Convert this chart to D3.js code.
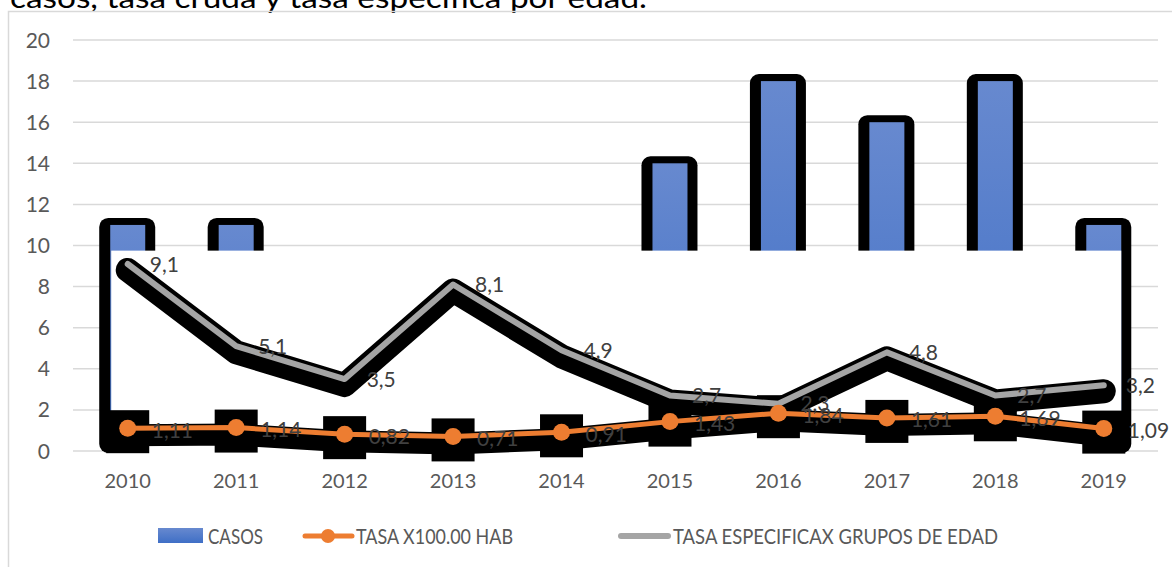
<!DOCTYPE html>
<html>
<head>
<meta charset="utf-8">
<script src="https://cdn.jsdelivr.net/npm/d3@7"></script>
<style>
  html, body { margin: 0; padding: 0; background: #fff; }
  svg { display: block; font-family: Lato, "Noto Sans", sans-serif; }
</style>
</head>
<body>
<svg id="chart" width="1172" height="567"></svg>
<script>
// Casos anuales, tasa cruda x100.000 hab y tasa específica por grupos de edad
const years = ["2010","2011","2012","2013","2014","2015","2016","2017","2018","2019"];
const casos = [11, 11, 8, 7, 9, 14, 18, 16, 18, 11];
const tasaCruda = [1.11, 1.14, 0.82, 0.71, 0.91, 1.43, 1.84, 1.61, 1.69, 1.09];
const tasaEspecifica = [9.1, 5.1, 3.5, 8.1, 4.9, 2.7, 2.3, 4.8, 2.7, 3.2];
const yTicks = [0, 2, 4, 6, 8, 10, 12, 14, 16, 18, 20];
const seriesNames = ["CASOS", "TASA X100.00 HAB", "TASA ESPECIFICAX GRUPOS DE EDAD"];
const titleText = "casos, tasa cruda y tasa especifica por edad.";

const svg = d3.select("#chart");
const fmt = v => String(v).replace(".", ",");

const x = d3.scaleBand().domain(years).range([73.5, 1158]).padding(0);
const y = d3.scaleLinear().domain([0, 20]).range([451, 40]);
const cx = d => x(d) + x.bandwidth() / 2;
const barW = 35;

// gradients
const defs = svg.append("defs");
const g1 = defs.append("linearGradient").attr("id", "barGrad")
  .attr("x1", 0).attr("y1", 0).attr("x2", 0).attr("y2", 1);
g1.append("stop").attr("offset", "0%").attr("stop-color", "#6789cf");
g1.append("stop").attr("offset", "100%").attr("stop-color", "#3f6fc6");

// title (runs off the top edge)
svg.append("text").attr("x", 10).attr("y", 8)
  .attr("font-size", 28).attr("fill", "#000")
  .attr("textLength", 637).attr("lengthAdjust", "spacingAndGlyphs")
  .text(titleText);

// chart frame
svg.append("rect").attr("x", 8.5).attr("y", 11.5).attr("width", 1200).attr("height", 600)
  .attr("fill", "none").attr("stroke", "#d9d9d9").attr("stroke-width", 1.5);

// gridlines
svg.append("g").selectAll("line").data(yTicks).join("line")
  .attr("x1", 73).attr("x2", 1158)
  .attr("y1", d => y(d)).attr("y2", d => y(d))
  .attr("stroke", "#d9d9d9").attr("stroke-width", 1.5);

// y axis labels
svg.append("g").selectAll("text").data(yTicks).join("text")
  .attr("x", 50).attr("y", d => y(d)).attr("dy", "0.36em")
  .attr("text-anchor", "end").attr("font-size", 21).attr("fill", "#595959")
  .text(d => d);

// x axis labels
svg.append("g").selectAll("text").data(years).join("text")
  .attr("x", d => cx(d)).attr("y", 481).attr("dy", "0.36em")
  .attr("text-anchor", "middle").attr("font-size", 20).attr("fill", "#595959")
  .text(d => d);

// bars with heavy black outline
const bars = svg.append("g");
bars.selectAll("rect.out").data(years).join("rect").attr("class", "out")
  .attr("x", d => cx(d) - barW / 2 - 11)
  .attr("y", (d, i) => y(casos[i]) - 7)
  .attr("width", barW + 21)
  .attr("height", (d, i) => y(0) - y(casos[i]) + 9)
  .attr("rx", 9).attr("fill", "#000");
bars.selectAll("rect.in").data(years).join("rect").attr("class", "in")
  .attr("x", d => cx(d) - barW / 2)
  .attr("y", (d, i) => y(casos[i]))
  .attr("width", barW)
  .attr("height", (d, i) => y(0) - y(casos[i]))
  .attr("fill", "url(#barGrad)");

// white panel over the lower part of the bars
const x0 = cx(years[0]) - barW / 2, x1 = cx(years[years.length - 1]) + barW / 2;
svg.append("rect").attr("x", x0 + 1).attr("y", y(9.75))
  .attr("width", x1 - x0 - 1).attr("height", y(0) - y(9.75) + 3)
  .attr("fill", "#fff");

const line = vals => d3.line().x((d, i) => cx(years[i])).y(d => y(d))(vals);

// shadows
svg.append("path").attr("d", line(tasaEspecifica)).attr("transform", "translate(0,6)")
  .attr("fill", "none").attr("stroke", "#000").attr("stroke-width", 24)
  .attr("stroke-linejoin", "round").attr("stroke-linecap", "round");
svg.append("path").attr("d", line(tasaCruda)).attr("transform", "translate(0,7)")
  .attr("fill", "none").attr("stroke", "#000").attr("stroke-width", 22)
  .attr("stroke-linejoin", "round");
svg.append("g").selectAll("rect").data(tasaCruda).join("rect")
  .attr("x", (d, i) => cx(years[i]) - 21.5).attr("y", d => y(d) - 18)
  .attr("width", 43).attr("height", 43).attr("fill", "#000");

// gray line
svg.append("path").attr("d", line(tasaEspecifica))
  .attr("fill", "none").attr("stroke", "#a5a5a5").attr("stroke-width", 6)
  .attr("stroke-linejoin", "round").attr("stroke-linecap", "round");

// orange line + markers
svg.append("path").attr("d", line(tasaCruda))
  .attr("fill", "none").attr("stroke", "#ed7d31").attr("stroke-width", 5)
  .attr("stroke-linejoin", "round");
svg.append("g").selectAll("circle").data(tasaCruda).join("circle")
  .attr("cx", (d, i) => cx(years[i])).attr("cy", d => y(d)).attr("r", 8.5)
  .attr("fill", "#ed7d31");

// data labels
const lblSize = 21, lblColor = "#404040";
svg.append("g").selectAll("text").data(tasaEspecifica).join("text")
  .attr("x", (d, i) => cx(years[i]) + 22).attr("y", d => y(d)).attr("dy", "0.36em")
  .attr("font-size", lblSize).attr("fill", lblColor).text(d => fmt(d));
svg.append("g").selectAll("text").data(tasaCruda).join("text")
  .attr("x", (d, i) => cx(years[i]) + 24).attr("y", d => y(d) + 2).attr("dy", "0.36em")
  .attr("font-size", lblSize).attr("fill", lblColor).text(d => fmt(d));

// legend
const lg = svg.append("g").attr("font-size", 22).attr("fill", "#595959")
  .attr("lengthAdjust", "spacingAndGlyphs");
lg.append("rect").attr("x", 158).attr("y", 528).attr("width", 45).attr("height", 15)
  .attr("fill", "url(#barGrad)");
lg.append("text").attr("x", 208).attr("y", 536).attr("dy", "0.36em")
  .attr("textLength", 55).attr("lengthAdjust", "spacingAndGlyphs").text(seriesNames[0]);
lg.append("line").attr("x1", 305).attr("x2", 352).attr("y1", 536).attr("y2", 536)
  .attr("stroke", "#ed7d31").attr("stroke-width", 5).attr("stroke-linecap", "round");
lg.append("circle").attr("cx", 328).attr("cy", 536).attr("r", 7).attr("fill", "#ed7d31");
lg.append("text").attr("x", 356).attr("y", 536).attr("dy", "0.36em")
  .attr("textLength", 157).attr("lengthAdjust", "spacingAndGlyphs").text(seriesNames[1]);
lg.append("line").attr("x1", 621).attr("x2", 668).attr("y1", 536).attr("y2", 536)
  .attr("stroke", "#a5a5a5").attr("stroke-width", 6).attr("stroke-linecap", "round");
lg.append("text").attr("x", 673).attr("y", 536).attr("dy", "0.36em")
  .attr("textLength", 325).attr("lengthAdjust", "spacingAndGlyphs").text(seriesNames[2]);
</script>
</body>
</html>
